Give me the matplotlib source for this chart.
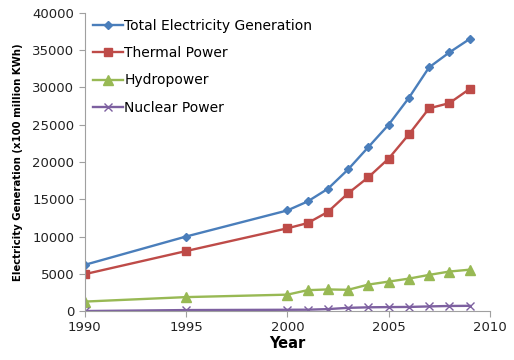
import matplotlib
matplotlib.use("Agg")
import matplotlib.pyplot as plt


years = [1990, 1995, 2000, 2001, 2002, 2003, 2004, 2005, 2006, 2007, 2008, 2009]
total = [6200, 10000, 13500, 14700, 16400, 19000, 22000, 25000, 28600, 32700, 34700, 36500]
thermal = [4950, 8050, 11100, 11800, 13300, 15800, 17950, 20450, 23700, 27200, 27900, 29800]
hydro = [1270, 1870, 2200, 2800, 2900, 2850, 3550, 3950, 4350, 4850, 5300, 5550]
nuclear = [0, 130, 170, 180, 260, 430, 500, 530, 550, 620, 680, 700]

series = [
    ("Total Electricity Generation", total, "#4A7EBB", "D", 4.5),
    ("Thermal Power", thermal, "#BE4B48", "s", 6),
    ("Hydropower", hydro, "#98B954", "^", 6.5),
    ("Nuclear Power", nuclear, "#7D60A0", "x", 6),
]

fig = plt.figure(figsize=(5.14, 3.6), dpi=100)
ax = fig.add_axes([0.165, 0.136, 0.788, 0.828])

for name, vals, color, marker, ms in series:
    ax.plot(years, vals, color=color, linewidth=1.7, marker=marker, markersize=ms,
            markeredgewidth=1, markeredgecolor=color, label=name)

ax.set_xlim(1990, 2010)
ax.set_ylim(0, 40000)
ax.set_xticks([1990, 1995, 2000, 2005, 2010])
ax.set_yticks(range(0, 40001, 5000))

for side in ["top", "right"]:
    ax.spines[side].set_visible(False)
for side in ["left", "bottom"]:
    ax.spines[side].set_color("#A0A0A0")
ax.tick_params(axis="both", colors="#A0A0A0", labelcolor="#222222", labelsize=9.5, length=4)

ax.set_xlabel("Year", fontsize=10.5, fontweight="bold", labelpad=1)
ax.set_ylabel("Electricity Generation (x100 million KWh)", fontsize=7.3, fontweight="bold", labelpad=7)

ax.legend(loc="upper left", frameon=False, fontsize=10, handlelength=2.2,
          handletextpad=0.1, labelspacing=0.95, borderaxespad=0.3,
          bbox_to_anchor=(-0.005, 1.012))

fig.savefig("out.png", dpi=100)
